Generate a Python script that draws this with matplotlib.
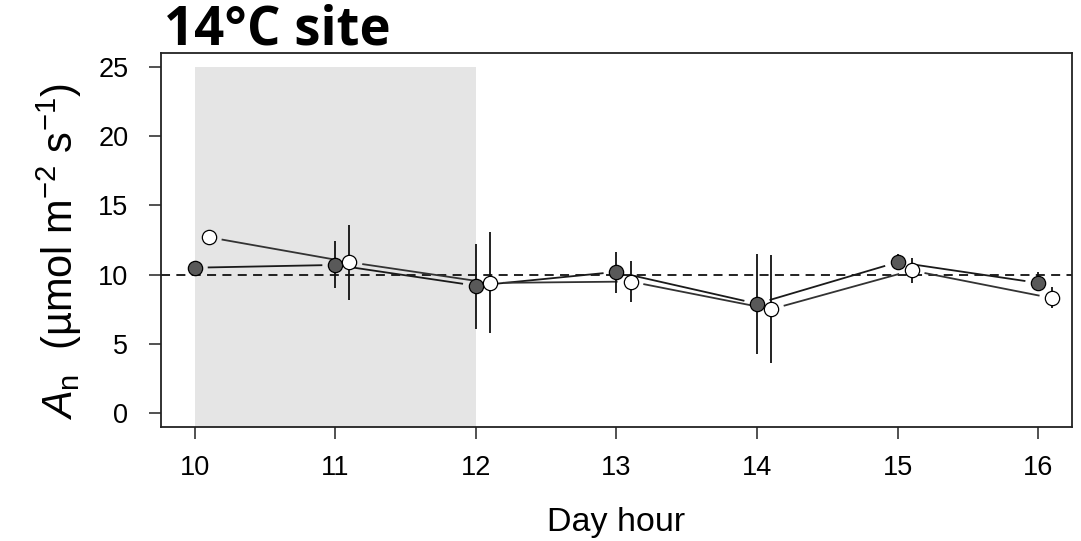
import matplotlib
matplotlib.use("Agg")
import matplotlib.pyplot as plt
from matplotlib.patches import Rectangle
import numpy as np

# ---- data ----
hours = [10, 11, 12, 13, 14, 15, 16]
offset_white = 0.1
dark_mean = [10.5, 10.7, 9.2, 10.2, 7.9, 10.9, 9.4]
dark_lo = [10.3, 9.0, 6.1, 8.7, 4.3, 10.5, 8.9]
dark_hi = [10.7, 12.4, 12.2, 11.6, 11.5, 11.5, 10.2]
white_mean = [12.7, 10.9, 9.4, 9.5, 7.5, 10.3, 8.3]
white_lo = [12.5, 8.2, 5.8, 8.0, 3.6, 9.4, 7.6]
white_hi = [12.9, 13.6, 13.1, 11.0, 11.4, 11.2, 9.1]
yticks = [0, 5, 10, 15, 20, 25]
shade_x = (10, 12)
shade_top = 25
ref_line = 10
title = "14°C site"

plt.rcParams['mathtext.fontset'] = 'custom'
plt.rcParams['mathtext.rm'] = 'Liberation Sans'
plt.rcParams['mathtext.it'] = 'Liberation Sans:italic'
plt.rcParams['font.family'] = ['Liberation Sans', 'DejaVu Sans']

W, H = 1081, 541
fig = plt.figure(figsize=(W/100, H/100), dpi=100)
ax = fig.add_axes([161/W, 1-427/H, (1072-161)/W, (427-53)/H])
ax.set_xlim(9.76, 16.24)
ax.set_ylim(-1, 26)

ax.add_patch(Rectangle((shade_x[0], -1), shade_x[1]-shade_x[0], shade_top+1,
                       facecolor='#e5e5e5', edgecolor='none', zorder=0))
ax.axhline(ref_line, color='#111111', lw=1.3, ls=(0, (5, 3.5)), zorder=1)

def gapped_line(xs, ys, color, gap=13):
    pts = ax.transData.transform(np.column_stack([xs, ys]))
    inv = ax.transData.inverted()
    for p0, p1 in zip(pts[:-1], pts[1:]):
        d = p1 - p0
        L = np.hypot(*d)
        if L <= 2*gap:
            continue
        u = d / L
        a = inv.transform(p0 + u*gap)
        b = inv.transform(p1 - u*gap)
        ax.plot([a[0], b[0]], [a[1], b[1]], color=color, lw=1.3, zorder=2,
                solid_capstyle='butt')

xw = [h + offset_white for h in hours]
gapped_line(hours, dark_mean, '#1a1a1a')
gapped_line(xw, white_mean, '#333333')

ax.vlines(hours, dark_lo, dark_hi, color='#111111', lw=1.3, zorder=3)
ax.vlines(xw, white_lo, white_hi, color='#111111', lw=1.3, zorder=3)

ax.plot(hours, dark_mean, 'o', ms=10.3, mfc='#595959', mec='black', mew=0.9,
        ls='none', zorder=4)
ax.plot(xw, white_mean, 'o', ms=10.3, mfc='white', mec='black', mew=0.9,
        ls='none', zorder=4)

ax.set_xticks(hours)
ax.set_xticklabels([str(h) for h in hours])
ax.set_yticks(yticks)
ax.set_yticklabels([str(t) for t in yticks])
ax.tick_params(axis='both', direction='out', length=8.5, width=1.2,
               labelsize=19.5, color='#333333')
ax.tick_params(axis='y', pad=15)
ax.tick_params(axis='x', pad=12)
for s in ax.spines.values():
    s.set_linewidth(1.3)
    s.set_color('#222222')

ax.set_xlabel('Day hour', fontsize=24.5)
ax.xaxis.set_label_coords(0.5, -0.215)
ax.set_ylabel(r'$\mathit{A}_{\mathrm{n}}$  (µmol m$^{-2}$ s$^{-1}$)', fontsize=30)
ax.yaxis.set_label_coords(-0.085, 0.47)

fig.text(164/W, 1-45/H, title, fontsize=38, fontweight='bold',
         family='Open Sans', ha='left', va='baseline')

fig.savefig('out.png', dpi=100)
